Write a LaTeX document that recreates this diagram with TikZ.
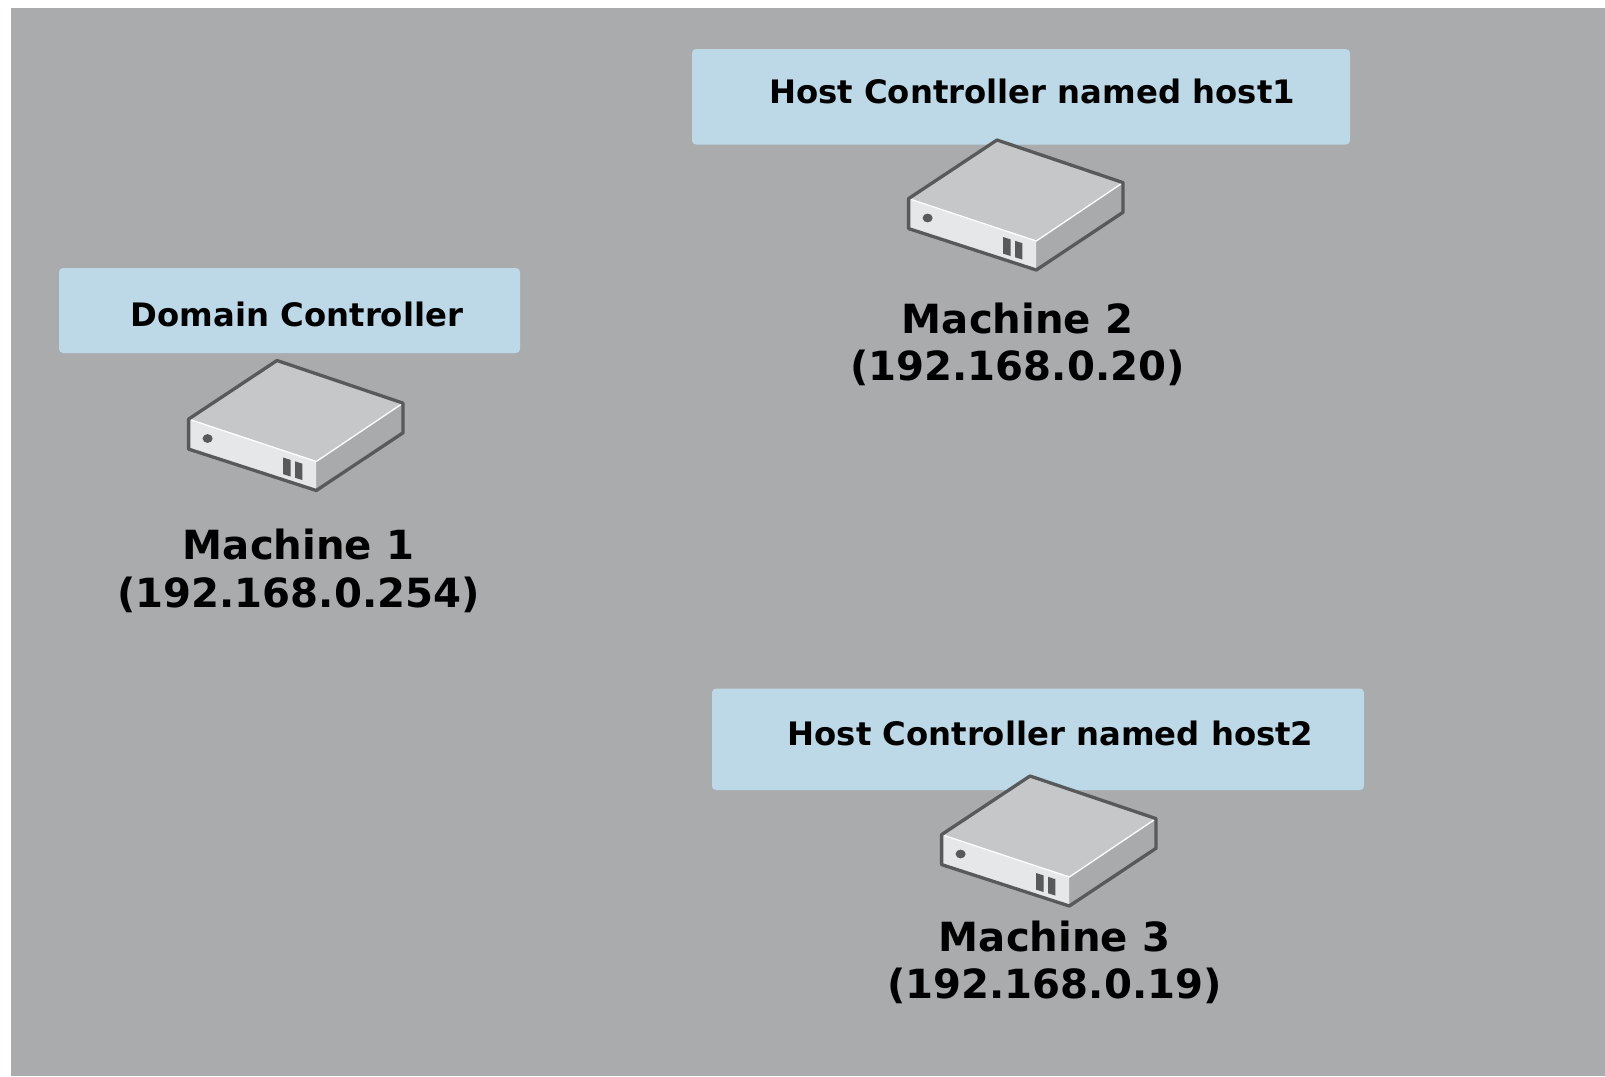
\documentclass[tikz,border=0pt]{standalone}
\usepackage{fontspec}
\setmainfont{DejaVu Sans}
\definecolor{bggrey}{HTML}{AAABAD}
\definecolor{boxblue}{HTML}{BDD8E6}
\definecolor{topface}{HTML}{C6C7C9}
\definecolor{frontface}{HTML}{E6E7E8}
\definecolor{sideface}{HTML}{A9AAAC}
\definecolor{edgegrey}{HTML}{58595B}
\tikzset{
  rolebox/.style={fill=boxblue,draw=none,rounded corners=4pt},
  rolelabel/.style={font=\fontsize{32.3}{38}\selectfont\bfseries,text=black,inner sep=0pt},
  machinelabel/.style={font=\fontsize{40.2}{47.7}\selectfont\bfseries,text=black,align=center,inner sep=0pt},
  srvedge/.style={draw=edgegrey,line width=3.3pt,line join=round},
}
\newcommand{\serverbox}[2]{%
  \begin{scope}[shift={(#1,#2)}]
    \fill[topface] (0,0) -- (126,42.6) -- (39.3,101) -- (-88.4,58.6) -- cycle;
    \fill[frontface] (-88.4,58.6) -- (39.3,101) -- (39.3,130) -- (-88.4,88.6) -- cycle;
    \fill[sideface] (39.3,101) -- (126,42.6) -- (126,72.3) -- (39.3,130) -- cycle;
    \draw[white,line width=1.3pt] (-88.4,58.6) -- (39.3,101) -- (126,42.6);
    \draw[srvedge] (0,0) -- (126,42.6) -- (126,72.3) -- (39.3,130) -- (-88.4,88.6) -- (-88.4,58.6) -- cycle;
    \fill[edgegrey] (-69.4,78) ellipse (5 and 4.4);
    \fill[edgegrey] (6,97) -- (13.6,99.4) -- (13.6,116) -- (6,113.6) -- cycle;
    \fill[edgegrey] (18,100.8) -- (25.4,103.2) -- (25.4,119.6) -- (18,117.2) -- cycle;
  \end{scope}}
\begin{document}
\begin{tikzpicture}[x=1pt,y=-1pt]
  \useasboundingbox (0,0) rectangle (1605,1076);
  \fill[white] (0,0) rectangle (1605,1076);
  \fill[bggrey] (11,8) rectangle (1605,1076);

  \path[rolebox] (59,268) rectangle (520,353);
  \path[rolebox] (692,49) rectangle (1350,144.5);
  \path[rolebox] (712,688.5) rectangle (1364,790);

  \node[rolelabel] (dc) at (297,314.5) {Domain Controller};
  \node[rolelabel] (h1) at (1032,91) {Host Controller named host1};
  \node[rolelabel] (h2) at (1050.5,733) {Host Controller named host2};

  \serverbox{277}{360.5}
  \serverbox{997}{140}
  \serverbox{1030}{776}

  \node[machinelabel] (m1) at (298.5,571) {Machine 1\\(192.168.0.254)};
  \node[machinelabel] (m2) at (1017.5,344.5) {Machine 2\\(192.168.0.20)};
  \node[machinelabel] (m3) at (1054.5,962.5) {Machine 3\\(192.168.0.19)};
\end{tikzpicture}
\end{document}
